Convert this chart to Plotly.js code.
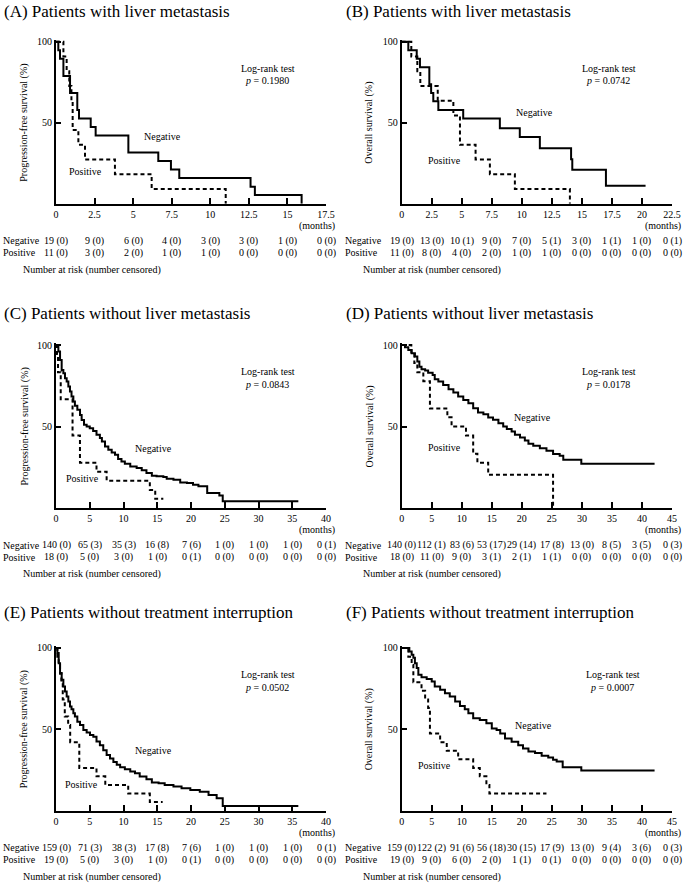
<!DOCTYPE html>
<html><head><meta charset="utf-8">
<script src="https://cdn.plot.ly/plotly-3.0.1.min.js"></script>
<style>html,body{margin:0;padding:0;background:#fff}#chart{width:685px;height:884px}</style>
</head><body><div id="chart"></div>
<script>
// ---------------- data ----------------
const A_ticks = [0, 2.5, 5, 7.5, 10, 12.5, 15, 17.5];
const A_neg_t = [0, 0.15, 0.26, 0.48, 0.91, 1.38, 1.49, 2.25, 2.57, 4.69, 6.63, 7.45, 7.99, 12.61, 12.89, 15.92];
const A_neg_s = [100, 94.7, 89.5, 78.9, 68.4, 57.9, 52.6, 47.4, 42.1, 31.6, 26.3, 21.1, 15.8, 10.5, 5.3, 0];
const A_pos_t = [0, 0.48, 0.69, 0.86, 1.0, 1.08, 1.45, 1.88, 3.82, 6.2, 11.0];
const A_pos_s = [100, 90.9, 81.8, 72.7, 63.6, 45.5, 36.4, 27.3, 18.2, 9.1, 0];
const A_neg_risk = ['19 (0)', '9 (0)', '6 (0)', '4 (0)', '3 (0)', '3 (0)', '1 (0)', '0 (0)'];
const A_pos_risk = ['11 (0)', '3 (0)', '2 (0)', '1 (0)', '1 (0)', '0 (0)', '0 (0)', '0 (0)'];

const B_ticks = [0, 2.5, 5, 7.5, 10, 12.5, 15, 17.5, 20, 22.5];
const B_neg_t = [0, 0.55, 1.25, 1.52, 2.3, 2.45, 2.63, 3.05, 5.12, 8.17, 9.83, 11.5, 14.1, 14.2, 17.0, 20.3];
const B_neg_s = [100, 94.7, 89.5, 84.2, 73.7, 68.4, 63.2, 57.9, 52.6, 46.6, 41.1, 34.3, 27.5, 20.9, 11.1, 11.1];
const B_pos_t = [0, 0.8, 1.3, 1.55, 3.0, 4.3, 4.85, 6.15, 7.34, 9.42, 14.0];
const B_pos_s = [100, 90.9, 81.8, 72.7, 63.6, 54.5, 36.4, 27.3, 18.2, 9.1, 0];
const B_neg_risk = ['19 (0)', '13 (0)', '10 (1)', '9 (0)', '7 (0)', '5 (1)', '3 (0)', '1 (1)', '1 (0)', '0 (1)'];
const B_pos_risk = ['11 (0)', '8 (0)', '4 (0)', '2 (0)', '1 (0)', '1 (0)', '0 (0)', '0 (0)', '0 (0)', '0 (0)'];

const C_ticks = [0, 5, 10, 15, 20, 25, 30, 35, 40];
const C_neg_t = [0, 0.35, 0.6, 0.84, 1.09, 1.33, 1.58, 1.83, 2.07, 2.3, 2.57, 2.8, 3.16, 3.56, 3.8, 4.15, 4.54, 5.0, 5.5, 6.0, 6.5, 6.8, 7.26, 7.75, 8.25, 8.74, 9.2, 9.7, 10.2, 11.0, 11.95, 12.7, 13.4, 14.2, 14.9, 15.9, 16.4, 17.4, 18.4, 19.4, 20.3, 21.1, 22.4, 24.2, 24.7, 35.9];
const C_neg_s = [100, 96, 90.8, 84.7, 82.7, 79.6, 77.6, 74.5, 71.4, 68.4, 65.3, 62.7, 60.2, 57.1, 54, 51, 50, 49, 47.3, 44.9, 42.9, 40.8, 37.8, 35.7, 34.1, 32.7, 30, 28.6, 27.1, 25.5, 24.5, 23.1, 21.4, 19.8, 19.4, 19, 18, 17.3, 15.7, 15.3, 14.3, 13.3, 9.2, 7.6, 4.1, 4.1];
const C_pos_t = [0, 0.15, 0.3, 0.7, 2.45, 3.55, 6.0, 7.5, 13.9, 14.7, 15.9];
const C_pos_s = [100, 94.4, 83.3, 66.7, 44.4, 27.8, 22.2, 16.7, 11.1, 5.6, 5.6];
const C_neg_risk = ['140 (0)', '65 (3)', '35 (3)', '16 (8)', '7 (6)', '1 (0)', '1 (0)', '1 (0)', '0 (1)'];
const C_pos_risk = ['18 (0)', '5 (0)', '3 (0)', '1 (0)', '0 (1)', '0 (0)', '0 (0)', '0 (0)', '0 (0)'];

const D_ticks = [0, 5, 10, 15, 20, 25, 30, 35, 40, 45];
const D_neg_t = [0, 0.55, 1.1, 1.66, 2.2, 2.6, 2.94, 3.3, 3.9, 4.4, 5.15, 5.5, 6.1, 6.9, 7.8, 8.6, 9.4, 10.25, 11.1, 11.9, 12.7, 13.6, 14.4, 15.2, 16.1, 16.9, 17.5, 18.3, 18.85, 19.7, 20.5, 21.1, 21.9, 23.0, 24.1, 25.2, 26.3, 26.9, 29.9, 42.1];
const D_neg_s = [100, 98.6, 97, 95, 93, 89.8, 86.7, 85.1, 84.3, 83, 81.6, 79, 77.6, 75.5, 72.9, 70.8, 68.4, 66.3, 64.3, 61.2, 58.6, 57.5, 55.5, 54.1, 52, 50, 48.4, 46.9, 44.9, 43.3, 41.4, 39.4, 38.2, 36.7, 35.1, 33.1, 32, 29.6, 27.1, 27.1];
const D_pos_t = [0, 1.6, 2.1, 2.6, 3.6, 4.7, 7.6, 8.3, 10.7, 11.9, 12.6, 14.4, 25.2];
const D_pos_s = [100, 94.4, 88.9, 83.3, 77.8, 61.1, 55.6, 50, 44.4, 33.3, 27.8, 20.4, 0];
const D_neg_risk = ['140 (0)', '112 (1)', '83 (6)', '53 (17)', '29 (14)', '17 (8)', '13 (0)', '8 (5)', '3 (5)', '0 (3)'];
const D_pos_risk = ['18 (0)', '11 (0)', '9 (0)', '3 (1)', '2 (1)', '1 (1)', '0 (0)', '0 (0)', '0 (0)', '0 (0)'];

const E_ticks = [0, 5, 10, 15, 20, 25, 30, 35, 40];
const E_neg_t = [0, 0.2, 0.4, 0.6, 0.84, 1.09, 1.33, 1.58, 1.83, 2.07, 2.3, 2.57, 2.8, 3.16, 3.56, 4.05, 4.54, 5.04, 5.53, 6.0, 6.5, 7.0, 7.5, 8.0, 8.5, 9.0, 9.5, 10.2, 11.0, 11.7, 12.4, 13.4, 14.2, 15.2, 16.1, 17.4, 18.6, 19.9, 21.3, 22.6, 23.8, 24.7, 35.9];
const E_neg_s = [100, 97, 90.7, 84.6, 80.5, 76.3, 73.3, 70.2, 67.1, 64, 62.4, 59.9, 57.9, 54.7, 52.7, 49.6, 48, 46.5, 45.5, 42.5, 40.3, 37.2, 34.2, 32.1, 30, 28.2, 26.7, 25.5, 24.1, 23, 21, 19.3, 17.3, 16.9, 15.8, 14.8, 13.8, 12.8, 11.7, 9.7, 7.6, 2.9, 2.9];
const E_pos_t = [0, 0.2, 0.4, 0.6, 0.8, 1.0, 1.3, 1.8, 2.1, 3.45, 6.0, 7.3, 10.7, 13.9, 15.8];
const E_pos_s = [100, 94.7, 89.5, 84.2, 78.9, 68.4, 57.9, 52.6, 42.1, 26.3, 21.1, 15.8, 10.5, 5.3, 5.3];
const E_neg_risk = ['159 (0)', '71 (3)', '38 (3)', '17 (8)', '7 (6)', '1 (0)', '1 (0)', '1 (0)', '0 (1)'];
const E_pos_risk = ['19 (0)', '5 (0)', '3 (0)', '1 (0)', '0 (1)', '0 (0)', '0 (0)', '0 (0)', '0 (0)'];

const F_ticks = [0, 5, 10, 15, 20, 25, 30, 35, 40, 45];
const F_neg_t = [0, 1.27, 1.66, 1.94, 2.2, 2.5, 2.77, 3.3, 4.16, 5.0, 5.5, 6.4, 7.2, 8.0, 8.9, 9.7, 10.5, 11.1, 11.9, 13.0, 14.1, 15.0, 15.8, 16.4, 17.2, 18.3, 19.4, 20.2, 21.1, 22.2, 23.3, 24.4, 25.2, 25.8, 26.8, 29.9, 42.1];
const F_neg_s = [100, 97.9, 95.9, 94, 90.7, 87.7, 83.5, 82.1, 81, 79.4, 76.3, 74.3, 72.2, 70.2, 67.1, 64.4, 62.4, 59.9, 56.8, 55.8, 53.7, 50.6, 49.6, 47.5, 44.4, 42.4, 40.3, 38.3, 36.4, 35.4, 33.7, 32.7, 31.3, 30.2, 26.7, 24.7, 24.7];
const F_pos_t = [0, 1.1, 1.66, 1.94, 3.3, 3.9, 4.4, 4.7, 6.4, 7.5, 9.4, 11.9, 13.0, 14.1, 14.6, 24.1];
const F_pos_s = [100, 94.7, 89.5, 78.9, 73.7, 68.4, 63.2, 47.4, 42.1, 36.8, 31.6, 26.3, 21.1, 15.8, 10.5, 10.5];
const F_neg_risk = ['159 (0)', '122 (2)', '91 (6)', '56 (18)', '30 (15)', '17 (9)', '13 (0)', '9 (4)', '3 (6)', '0 (3)'];
const F_pos_risk = ['19 (0)', '9 (0)', '6 (0)', '2 (0)', '1 (1)', '0 (1)', '0 (0)', '0 (0)', '0 (0)', '0 (0)'];

const titles = ['(A) Patients with liver metastasis', '(B) Patients with liver metastasis',
  '(C) Patients without liver metastasis', '(D) Patients without liver metastasis',
  '(E) Patients without treatment interruption', '(F) Patients without treatment interruption'];
const yTitles = ['Progression-free survival (%)', 'Overall survival (%)'];
const pValues = ['0.1980', '0.0742', '0.0843', '0.0178', '0.0502', '0.0007'];

// ---------------- layout helpers ----------------
const W = 685, H = 884;
const FONT = 'Liberation Serif, Times New Roman, serif';
const px = v => v / W;
const py = v => 1 - v / H;

const colGeo = [{left: 56, right: 326, lab: 1, nar: 21, ytx: 24},
                {left: 401.7, right: 672, lab: 343, nar: 361, ytx: 369}];
const rowGeo = [{top: 41.7, bottom: 203.7, title: 12},
                {top: 345, bottom: 508, title: 313},
                {top: 648, bottom: 810.7, title: 612}];
const ROW_NEG = 37, ROW_POS = 49, ROW_NAR = 66;

const panels = [
  {ticks: A_ticks, nt: A_neg_t, ns: A_neg_s, pt: A_pos_t, ps: A_pos_s, nr: A_neg_risk, pr: A_pos_risk, negXY: [162, 136], posXY: [85, 172], lr: 268},
  {ticks: B_ticks, nt: B_neg_t, ns: B_neg_s, pt: B_pos_t, ps: B_pos_s, nr: B_neg_risk, pr: B_pos_risk, negXY: [534, 112], posXY: [444, 160], lr: 609},
  {ticks: C_ticks, nt: C_neg_t, ns: C_neg_s, pt: C_pos_t, ps: C_pos_s, nr: C_neg_risk, pr: C_pos_risk, negXY: [153, 448], posXY: [82, 479], lr: 268},
  {ticks: D_ticks, nt: D_neg_t, ns: D_neg_s, pt: D_pos_t, ps: D_pos_s, nr: D_neg_risk, pr: D_pos_risk, negXY: [532, 417], posXY: [444, 447], lr: 609},
  {ticks: E_ticks, nt: E_neg_t, ns: E_neg_s, pt: E_pos_t, ps: E_pos_s, nr: E_neg_risk, pr: E_pos_risk, negXY: [153, 750], posXY: [81, 784], lr: 268},
  {ticks: F_ticks, nt: F_neg_t, ns: F_neg_s, pt: F_pos_t, ps: F_pos_s, nr: F_neg_risk, pr: F_pos_risk, negXY: [533, 725], posXY: [434, 765], lr: 613}
];

const traces = [];
const annotations = [];
const layout = {
  width: W, height: H, margin: {l: 0, r: 0, t: 0, b: 0},
  paper_bgcolor: '#fff', plot_bgcolor: 'rgba(0,0,0,0)',
  showlegend: false, font: {family: FONT, size: 10, color: '#000'},
  annotations: annotations
};

function ann(text, x, y, o) {
  annotations.push(Object.assign({
    text: text, x: px(x), y: py(y), xref: 'paper', yref: 'paper',
    showarrow: false, xanchor: 'center', yanchor: 'middle',
    font: {family: FONT, size: 10, color: '#000'}
  }, o || {}));
}

panels.forEach((p, i) => {
  const c = colGeo[i % 2], r = rowGeo[Math.floor(i / 2)];
  const n = i + 1;
  const xa = n === 1 ? 'x' : 'x' + n, ya = n === 1 ? 'y' : 'y' + n;
  const xKey = n === 1 ? 'xaxis' : 'xaxis' + n, yKey = n === 1 ? 'yaxis' : 'yaxis' + n;
  const xmax = p.ticks[p.ticks.length - 1];
  const topPx = r.bottom - (r.bottom - r.top) * 1.012;

  layout[xKey] = {
    domain: [px(c.left), px(c.right)], anchor: ya, range: [0, xmax],
    showline: true, linewidth: 2, linecolor: '#000', mirror: false,
    ticks: 'inside', ticklen: 6, tickwidth: 2, tickcolor: '#000',
    tickvals: p.ticks, ticktext: p.ticks.map(String),
    tickfont: {family: FONT, size: 10, color: '#000'},
    showgrid: false, zeroline: false, fixedrange: true
  };
  layout[yKey] = {
    domain: [py(r.bottom), py(topPx)], anchor: xa, range: [0, 101.2],
    showline: true, linewidth: 2, linecolor: '#000', mirror: false,
    ticks: 'inside', ticklen: 5, tickwidth: 2, tickcolor: '#000',
    tickvals: [50, 100], ticktext: ['50', '100'],
    tickfont: {family: FONT, size: 10, color: '#000'},
    showgrid: false, zeroline: false, fixedrange: true
  };

  traces.push({x: p.pt, y: p.ps, xaxis: xa, yaxis: ya, type: 'scatter', mode: 'lines',
    line: {shape: 'hv', color: '#000', width: 2, dash: '4px,3px'}, hoverinfo: 'skip'});
  traces.push({x: p.nt, y: p.ns, xaxis: xa, yaxis: ya, type: 'scatter', mode: 'lines',
    line: {shape: 'hv', color: '#000', width: 2}, hoverinfo: 'skip'});

  ann(titles[i], c.lab + 1, r.title, {xanchor: 'left', font: {family: FONT, size: 17, color: '#000'}});
  ann(yTitles[i % 2], c.ytx, (r.top + r.bottom) / 2, {textangle: -90});
  ann('Log-rank test', p.lr, r.top + 26.5);
  ann('<i>p</i> = ' + pValues[i], p.lr - 1, r.top + 39);
  ann('Negative', p.negXY[0], p.negXY[1]);
  ann('Positive', p.posXY[0], p.posXY[1]);
  ann('(months)', c.right + 11, r.bottom + 22, {xanchor: 'right'});
  ann('Negative', c.lab, r.bottom + ROW_NEG, {xanchor: 'left'});
  ann('Positive', c.lab, r.bottom + ROW_POS, {xanchor: 'left'});
  p.ticks.forEach((t, k) => {
    annotations.push({text: p.nr[k], x: t, xref: xa, y: py(r.bottom + ROW_NEG), yref: 'paper',
      showarrow: false, xanchor: 'center', yanchor: 'middle', font: {family: FONT, size: 10, color: '#000'}});
    annotations.push({text: p.pr[k], x: t, xref: xa, y: py(r.bottom + ROW_POS), yref: 'paper',
      showarrow: false, xanchor: 'center', yanchor: 'middle', font: {family: FONT, size: 10, color: '#000'}});
  });
  ann('Number at risk (number censored)', c.nar, r.bottom + ROW_NAR, {xanchor: 'left'});
});

Plotly.newPlot('chart', traces, layout, {staticPlot: true, displayModeBar: false});
</script></body></html>
